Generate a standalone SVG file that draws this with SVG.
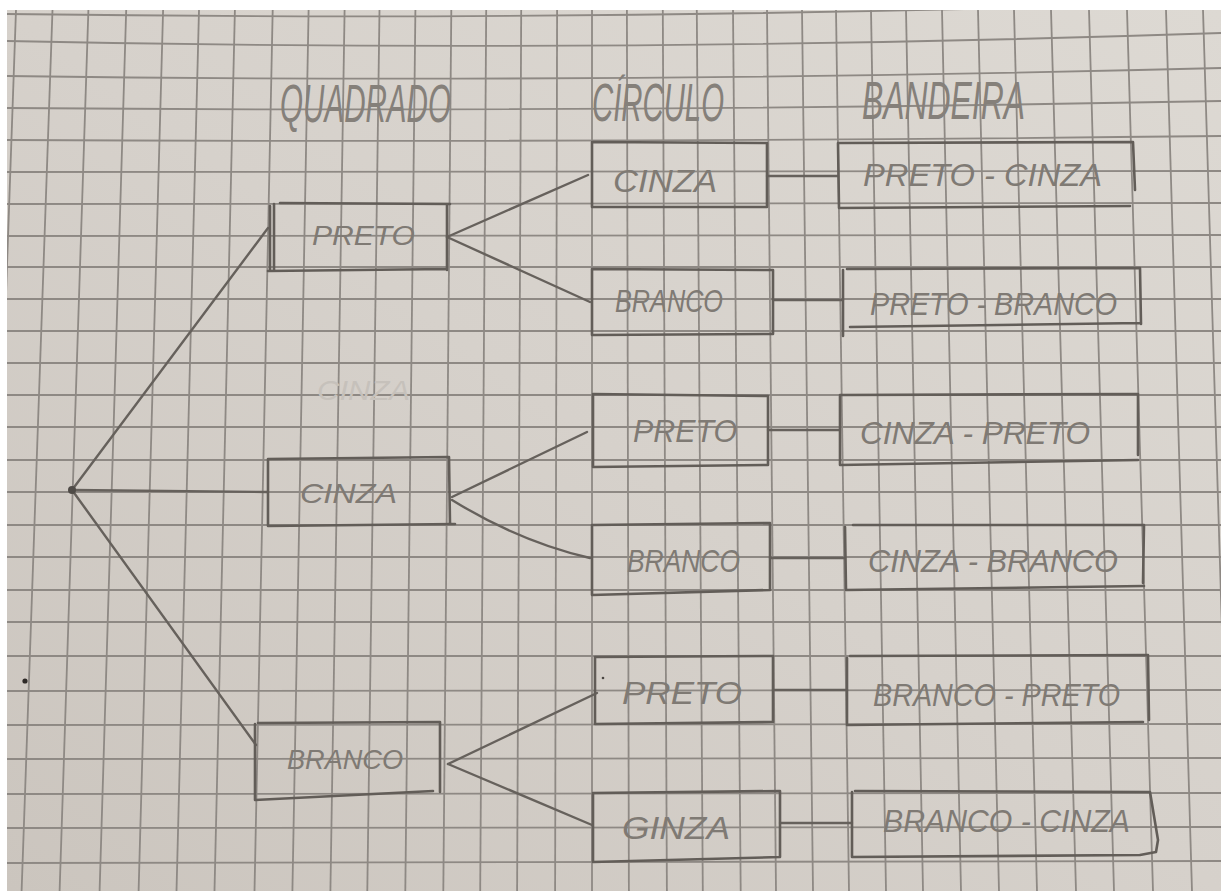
<svg xmlns="http://www.w3.org/2000/svg" width="1221" height="891" viewBox="0 0 1221 891">
  <defs>
    <linearGradient id="paperTone" x1="0" y1="1" x2="1" y2="0">
      <stop offset="0" stop-color="#cbc5be"/>
      <stop offset="0.5" stop-color="#d6d1cb"/>
      <stop offset="1" stop-color="#ddd9d3"/>
    </linearGradient>
    <clipPath id="sheet">
      <rect x="7" y="10" width="1214" height="881"/>
    </clipPath>
  </defs>
  <style>
    .grid { stroke: #8e8984; stroke-width: 1.8; fill: none; }
    .pen { stroke: #625d58; stroke-width: 2.6; fill: none; stroke-linecap: round; stroke-linejoin: round; }
    .link { stroke: #66615c; stroke-width: 2.4; fill: none; stroke-linecap: round; }
    .hand { font-family: "Liberation Sans", Arial, sans-serif; font-style: italic; fill: #7f7a74; }
    .label { font-size: 31px; }
    .small { font-size: 28px; }
    .head { font-size: 54px; fill: #85807a; }
  </style>

  <!-- sheet of squared paper -->
  <rect width="1221" height="891" fill="#ffffff"/>
  <g clip-path="url(#sheet)">
    <rect x="7" y="10" width="1214" height="881" fill="url(#paperTone)"/>
    <g id="grid" class="grid">
      <!-- vertical rulings, slightly converging toward the top -->
      <line x1="16" y1="10" x2="-15" y2="891"/>
      <line x1="52.5" y1="10" x2="21.6" y2="891"/>
      <line x1="88.4" y1="10" x2="59.6" y2="891"/>
      <line x1="126.2" y1="10" x2="99.6" y2="891"/>
      <line x1="163.1" y1="10" x2="138.6" y2="891"/>
      <line x1="199" y1="10" x2="176.5" y2="891"/>
      <line x1="234.9" y1="10" x2="214.5" y2="891"/>
      <line x1="272.7" y1="10" x2="254.5" y2="891"/>
      <line x1="308.6" y1="10" x2="292.4" y2="891"/>
      <line x1="344.6" y1="10" x2="330.4" y2="891"/>
      <line x1="379.5" y1="10" x2="367.3" y2="891"/>
      <line x1="415.4" y1="10" x2="405.3" y2="891"/>
      <line x1="451.3" y1="10" x2="443.3" y2="891"/>
      <line x1="486.2" y1="10" x2="480.2" y2="891"/>
      <line x1="521.2" y1="10" x2="517.1" y2="891"/>
      <line x1="557.1" y1="10" x2="555.1" y2="891"/>
      <line x1="592" y1="10" x2="592" y2="891"/>
      <line x1="626.9" y1="10" x2="628.9" y2="891"/>
      <line x1="662.8" y1="10" x2="666.9" y2="891"/>
      <line x1="696.8" y1="10" x2="702.8" y2="891"/>
      <line x1="733" y1="10" x2="740.7" y2="891"/>
      <line x1="767" y1="10" x2="776" y2="891"/>
      <line x1="802" y1="10" x2="813" y2="891"/>
      <line x1="836" y1="10" x2="849" y2="891"/>
      <line x1="871" y1="10" x2="886" y2="891"/>
      <line x1="906" y1="10" x2="923" y2="891"/>
      <line x1="942" y1="10" x2="961" y2="891"/>
      <line x1="978" y1="10" x2="999" y2="891"/>
      <line x1="1014" y1="10" x2="1037" y2="891"/>
      <line x1="1051" y1="10" x2="1076" y2="891"/>
      <line x1="1089" y1="10" x2="1114" y2="891"/>
      <line x1="1127" y1="10" x2="1153" y2="891"/>
      <line x1="1166" y1="10" x2="1192" y2="891"/>
      <line x1="1203" y1="10" x2="1230" y2="891"/>
      <!-- horizontal rulings, bowed near the top edge -->
      <path d="M7,14 Q600,22 1221,2"/>
      <path d="M7,41 Q600,54 1221,33"/>
      <path d="M7,76 Q600,84 1221,68"/>
      <path d="M7,108 Q600,113 1221,101"/>
      <path d="M7,140 Q600,143 1221,136"/>
      <line x1="7" y1="172" x2="1221" y2="171"/>
      <line x1="7" y1="204" x2="1221" y2="203"/>
      <line x1="7" y1="236" x2="1221" y2="235"/>
      <line x1="7" y1="267" x2="1221" y2="267"/>
      <line x1="7" y1="299" x2="1221" y2="299"/>
      <line x1="7" y1="331" x2="1221" y2="331"/>
      <line x1="7" y1="363" x2="1221" y2="363"/>
      <line x1="7" y1="395" x2="1221" y2="395"/>
      <line x1="7" y1="427" x2="1221" y2="427"/>
      <line x1="7" y1="460" x2="1221" y2="460"/>
      <line x1="7" y1="492" x2="1221" y2="492"/>
      <line x1="7" y1="525" x2="1221" y2="525"/>
      <line x1="7" y1="557" x2="1221" y2="557"/>
      <line x1="7" y1="590" x2="1221" y2="590"/>
      <line x1="7" y1="622" x2="1221" y2="622"/>
      <line x1="7" y1="656" x2="1221" y2="656"/>
      <line x1="7" y1="691" x2="1221" y2="690"/>
      <line x1="7" y1="725" x2="1221" y2="724"/>
      <line x1="7" y1="759" x2="1221" y2="758"/>
      <line x1="7" y1="794" x2="1221" y2="793"/>
      <line x1="7" y1="828" x2="1221" y2="827"/>
      <line x1="7" y1="863" x2="1221" y2="861"/>
    </g>
  </g>

  <!-- column headings -->
  <g id="headings" class="hand head">
    <text x="280" y="122" textLength="171" lengthAdjust="spacingAndGlyphs">QUADRADO</text>
    <text x="592" y="121" textLength="132" lengthAdjust="spacingAndGlyphs">CÍRCULO</text>
    <text x="862" y="119" textLength="163" lengthAdjust="spacingAndGlyphs">BANDEIRA</text>
  </g>

  <!-- half-erased word -->
  <text id="erased" class="hand small" x="317" y="400" textLength="93" lengthAdjust="spacingAndGlyphs" fill="#c5c0ba" style="fill:#c6c1bb">CINZA</text>

  <!-- stray pencil dots -->
  <circle cx="25" cy="681" r="2.6" fill="#2e2a27"/>
  <circle cx="603" cy="678" r="1.3" fill="#4a4642"/>

  <!-- connectors -->
  <g id="connectors" class="link">
    <line x1="72" y1="490" x2="268" y2="228"/>
    <line x1="72" y1="490" x2="267" y2="492"/>
    <line x1="72" y1="490" x2="256" y2="745"/>
    <line x1="447" y1="237" x2="588" y2="175"/>
    <line x1="447" y1="237" x2="590" y2="302"/>
    <line x1="452" y1="497" x2="587" y2="432"/>
    <path d="M452,500 Q520,542 590,558"/>
    <line x1="448" y1="764" x2="597" y2="693"/>
    <line x1="448" y1="764" x2="592" y2="825"/>
    <line x1="767" y1="176" x2="838" y2="176"/>
    <line x1="773" y1="300" x2="843" y2="300"/>
    <line x1="768" y1="430" x2="840" y2="430"/>
    <line x1="770" y1="558" x2="845" y2="558"/>
    <line x1="773" y1="690" x2="847" y2="690"/>
    <line x1="780" y1="823" x2="852" y2="823"/>
  </g>

  <!-- starting point -->
  <g id="root">
    <circle cx="72" cy="490" r="4" fill="#4f4b47"/>
  </g>

  <!-- square colours -->
  <g id="sq-preto">
    <path class="pen" d="M270,206 L270,271 M274,204 L274,270 M268,271 L447,269 M280,203 L450,204 M447,205 L447,270"/>
    <text class="hand small" x="312" y="245" textLength="103" lengthAdjust="spacingAndGlyphs">PRETO</text>
  </g>
  <g id="sq-cinza">
    <path class="pen" d="M268,459 L268,526 L455,524 M268,459 L449,457 L450,524"/>
    <text class="hand small" x="300" y="503" textLength="97" lengthAdjust="spacingAndGlyphs">CINZA</text>
  </g>
  <g id="sq-branco">
    <path class="pen" d="M258,723 L440,722 L440,792 M255,724 L255,800 L433,791"/>
    <text class="hand small" x="287" y="769" textLength="116" lengthAdjust="spacingAndGlyphs">BRANCO</text>
  </g>

  <!-- circle colours -->
  <g id="ci-cinza-1">
    <path class="pen" d="M592,142 L767,143 L767,207 L592,207 Z"/>
    <text class="hand label" x="613" y="192" textLength="104" lengthAdjust="spacingAndGlyphs">CINZA</text>
  </g>
  <g id="ci-branco-1">
    <path class="pen" d="M592,269 L773,270 L773,334 L592,335 Z"/>
    <text class="hand label" x="615" y="312" textLength="108" lengthAdjust="spacingAndGlyphs">BRANCO</text>
  </g>
  <g id="ci-preto-2">
    <path class="pen" d="M593,394 L768,396 L768,465 L593,467 Z"/>
    <text class="hand label" x="633" y="442" textLength="104" lengthAdjust="spacingAndGlyphs">PRETO</text>
  </g>
  <g id="ci-branco-2">
    <path class="pen" d="M592,525 L770,523 L770,590 L592,595 Z"/>
    <text class="hand label" x="627" y="572" textLength="113" lengthAdjust="spacingAndGlyphs">BRANCO</text>
  </g>
  <g id="ci-preto-3">
    <path class="pen" d="M595,657 L773,656 L773,722 L595,724 Z"/>
    <text class="hand label" x="622" y="704" textLength="120" lengthAdjust="spacingAndGlyphs">PRETO</text>
  </g>
  <g id="ci-cinza-3">
    <path class="pen" d="M593,793 L780,791 L780,857 L593,862 Z"/>
    <text class="hand label" x="622" y="839" textLength="108" lengthAdjust="spacingAndGlyphs">GINZA</text>
  </g>

  <!-- flag combinations -->
  <g id="fl-preto-cinza">
    <path class="pen" d="M838,143 L1133,142 L1135,190 M838,143 L839,208 L1130,206"/>
    <text class="hand label" x="863" y="186" textLength="239" lengthAdjust="spacingAndGlyphs">PRETO - CINZA</text>
  </g>
  <g id="fl-preto-branco">
    <path class="pen" d="M847,269 L1140,268 L1141,324 M843,270 L843,336 M850,327 L1140,323"/>
    <text class="hand label" x="870" y="315" textLength="247" lengthAdjust="spacingAndGlyphs">PRETO - BRANCO</text>
  </g>
  <g id="fl-cinza-preto">
    <path class="pen" d="M840,395 L1138,394 L1138,455 M840,396 L840,465 L1138,460"/>
    <text class="hand label" x="860" y="444" textLength="230" lengthAdjust="spacingAndGlyphs">CINZA - PRETO</text>
  </g>
  <g id="fl-cinza-branco">
    <path class="pen" d="M853,525 L1144,525 L1143,583 M845,527 L846,590 L1144,586"/>
    <text class="hand label" x="868" y="572" textLength="250" lengthAdjust="spacingAndGlyphs">CINZA - BRANCO</text>
  </g>
  <g id="fl-branco-preto">
    <path class="pen" d="M850,656 L1148,655 L1149,720 M847,658 L847,725 L1143,722"/>
    <text class="hand label" x="873" y="706" textLength="247" lengthAdjust="spacingAndGlyphs">BRANCO - PRETO</text>
  </g>
  <g id="fl-branco-cinza">
    <path class="pen" d="M855,791 L1150,792 L1158,840 L1156,852 L1140,855 M852,792 L852,857 L1140,855"/>
    <text class="hand label" x="883" y="832" textLength="247" lengthAdjust="spacingAndGlyphs">BRANCO - CINZA</text>
  </g>
</svg>
